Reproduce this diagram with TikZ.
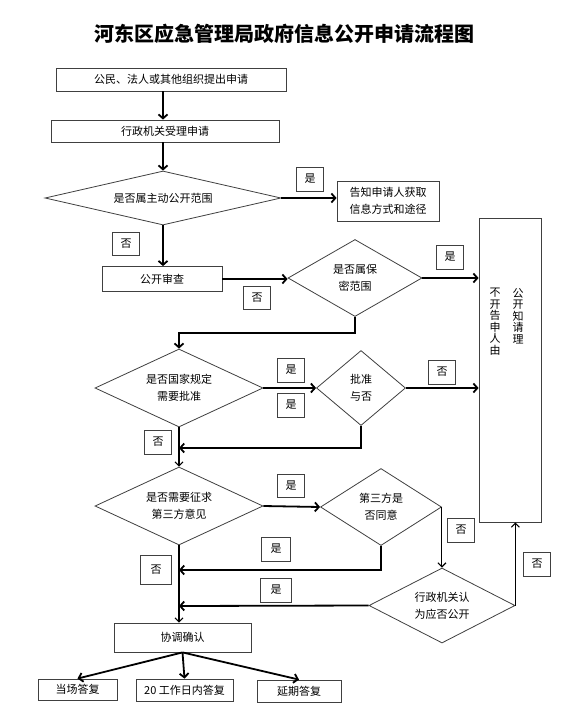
\documentclass[tikz,border=0pt]{standalone}
\usepackage{fontspec}
\newfontfamily\cjk{Noto Sans CJK SC}
\usetikzlibrary{shapes.geometric,arrows.meta}
\begin{document}
\begin{tikzpicture}[x=1pt,y=-1pt,
  every node/.style={font=\cjk\fontsize{11}{17}\selectfont, inner sep=0pt},
  box/.style={draw=black!75, line width=0.8pt, fill=white, rectangle, align=center},
  dia/.style={draw=black!75, line width=0.8pt, fill=white, diamond, aspect=2, align=center},
  tag/.style={draw=black!75, line width=0.8pt, fill=white, rectangle, minimum width=27pt, minimum height=24pt},
  con/.style={line width=1.8pt, -{Straight Barb[length=4pt,width=9pt]}},
  conthin/.style={line width=1.1pt, -{Straight Barb[length=4pt,width=8pt]}},
  vtext/.style={font=\cjk\fontsize{11}{11.5}\selectfont, align=center, anchor=north}
]
\useasboundingbox (0,0) rectangle (583,723);
\fill[white] (0,0) rectangle (583,723);

% title
\node[font=\cjk\bfseries\fontsize{20}{24}\selectfont] (title) at (284,34) {河东区应急管理局政府信息公开申请流程图};

% boxes
\node[box, minimum width=230pt, minimum height=23pt] (b1) at (171,79.5) {公民、法人或其他组织提出申请};
\node[box, minimum width=228pt, minimum height=22pt] (b2) at (165,131) {行政机关受理申请};
\node[dia, aspect=4, minimum width=236pt, minimum height=54pt] (d1) at (163,198) {是否属主动公开范围};
\node[box, minimum width=102pt, minimum height=40pt] (info) at (388,201) {告知申请人获取\\信息方式和途径};
\node[box, minimum width=120pt, minimum height=25pt] (review) at (162,279) {公开审查};
\node[dia, minimum width=134pt, minimum height=77pt] (d2) at (355,278) {是否属保\\密范围};
\node[box, minimum width=62pt, minimum height=304pt] (tall) at (510,370) {};
\node[vtext] (tallL) at (495,288) {不\\开\\告\\申\\人\\由};
\node[vtext] (tallR) at (518,288) {公\\开\\知\\请\\理};
\node[dia, minimum width=168pt, minimum height=78pt] (d3) at (179,388) {是否国家规定\\需要批准};
\node[dia, minimum width=89pt, minimum height=75pt] (d4) at (361,388) {批准\\与否};
\node[dia, minimum width=168pt, minimum height=78pt] (d5) at (179,506) {是否需要征求\\第三方意见};
\node[dia, minimum width=121pt, minimum height=77pt] (d6) at (381,507) {第三方是\\否同意};
\node[dia, minimum width=146pt, minimum height=75pt] (d7) at (442,605.5) {行政机关认\\为应否公开};
\node[box, minimum width=137pt, minimum height=29pt] (coord) at (182.5,637.5) {协调确认};
\node[box, minimum width=79pt, minimum height=21pt] (r1) at (77.5,689.5) {当场答复};
\node[box, minimum width=97pt, minimum height=22pt] (r2) at (184.5,690) {20 工作日内答复};
\node[box, minimum width=84pt, minimum height=22pt] (r3) at (299,691) {延期答复};

% yes / no tags
\node[tag] (y1) at (310,179) {是};
\node[tag, minimum height=23pt] (n1) at (126,244) {否};
\node[tag, minimum height=23pt] (n2) at (257,298) {否};
\node[tag] (y2) at (450,257) {是};
\node[tag] (y3a) at (291,370) {是};
\node[tag] (y3b) at (291,405) {是};
\node[tag] (n4) at (442,372) {否};
\node[tag] (n3) at (158,442) {否};
\node[tag, minimum height=23pt] (y5) at (291,486) {是};
\node[tag, minimum width=29pt] (y6) at (276,549) {是};
\node[tag] (n6) at (461,530) {否};
\node[tag, minimum width=31pt, minimum height=29pt] (n5) at (156,570) {否};
\node[tag] (n7) at (537,564) {否};
\node[tag, minimum width=31pt] (y7) at (276,590) {是};

% junctions on the main line
\coordinate (j1) at (179,448);
\coordinate (j2) at (179,570);
\coordinate (j3) at (179,606);

% connectors
\draw[con] (b1.south -| d1.north) -- (b2.north -| d1.north);
\draw[con] (b2.south -| d1.north) -- (d1.north);
\draw[con] (d1.east) -- (d1.east -| info.west);
\draw[con] (d1.south) -- (d1.south |- review.north);
\draw[con] (review.east) -- (review.east -| d2.west);
\draw[con] (d2.east) -- (d2.east -| tall.west);
\draw[con] (d2.south) -- ++(0,16) -| (d3.north);
\draw[con] (d3.east) -- (d4.west);
\draw[con] (d4.east) -- (d4.east -| tall.west);
\draw[con] (d4.south) |- (j1);
\draw[conthin] (d3.south) -- (d5.north);
\draw[con] (d5.east) -- (d6.west);
\draw[con] (d6.south) |- (j2);
\draw[conthin] (d6.east) -- (d6.east |- d7.north);
\draw[conthin] (d7.east) -- (d7.east |- tall.south);
\draw[con] (d7.west) -- (j3);
\draw[conthin] (d5.south) -- (d5.south |- coord.north);
\draw[con] (coord.south) -- (r1.north);
\draw[con] (coord.south) -- (r2.north);
\draw[con] (coord.south) -- (r3.north);
\end{tikzpicture}
\end{document}
